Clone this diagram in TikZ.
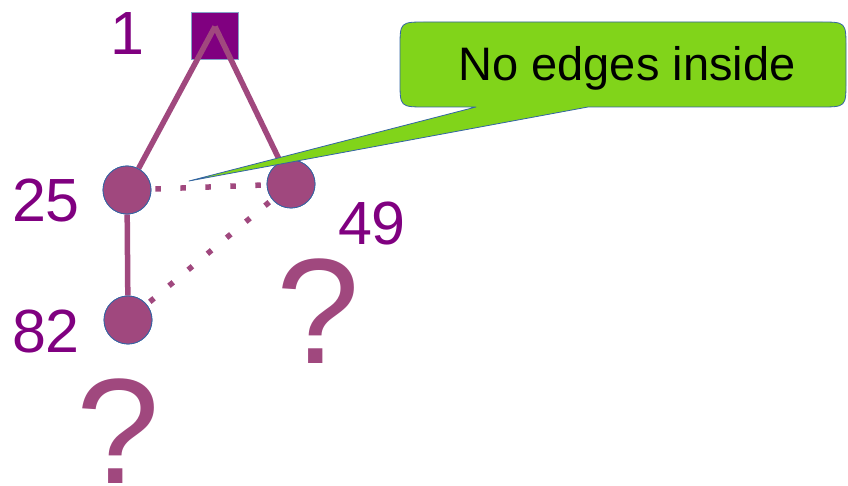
\documentclass[tikz,border=0pt]{standalone}
\usepackage{fontspec}
\setmainfont{Liberation Sans}
\definecolor{plum}{HTML}{800080}
\definecolor{mauve}{HTML}{A0487E}
\definecolor{rim}{HTML}{3465A4}
\definecolor{leaf}{HTML}{81D41A}
\begin{document}
\begin{tikzpicture}[x=1pt,y=-1pt,
  vertex/.style={circle,fill=mauve,draw=rim,line width=0.8pt,minimum size=48pt,inner sep=0pt},
  rootbox/.style={rectangle,fill=plum,draw=rim!60,line width=0.8pt,minimum size=47pt,inner sep=0pt},
  treeedge/.style={draw=mauve,line width=5.5pt},
  dotedge/.style={draw=mauve,line width=5.5pt,dash pattern=on 5.5pt off 19.5pt,dash phase=-4pt},
  idlabel/.style={text=plum,font=\fontsize{61}{61}\selectfont,anchor=base,inner sep=0pt},
  query/.style={text=mauve,font=\fontsize{150}{150}\selectfont,anchor=base,inner sep=0pt},
  balloon/.style={fill=leaf,draw=rim,line width=0.8pt,line join=round},
]
\useasboundingbox (0,0) rectangle (848,486);

% root of the tree
\node[rootbox] (root) at (215,35.5) {};
\coordinate (apex) at ([yshift=-15pt]root.north);

% vertices (placed first so that edges can refer to them)
\node[vertex] (n25) at (127,190) {};
\node[vertex] (n49) at (291,184) {};
\node[vertex] (n82) at (128,320) {};

% tree edges and non-edges
\path[treeedge] (apex) -- (n25);
\path[treeedge] (apex) -- (n49);
\path[treeedge] (n25) -- (n82);
\path[dotedge] (n25) -- (n49);
\path[dotedge] (n82) -- (n49);

% redraw vertices over the edges
\node[vertex] at (n25) {};
\node[vertex] at (n49) {};
\node[vertex] at (n82) {};

% vertex labels
\node[idlabel] (l1)  at (127,55)  {1};
\node[idlabel] (l25) at (46,222)  {25};
\node[idlabel] (l82) at (46,352)  {82};
\node[idlabel] (l49) at (372,244) {49};

% unknown parts
\node[query] (q49) at (318,363) {?};
\node[query] (q82) at (118,483) {?};

% speech balloon
\coordinate (tip) at (189,181);
\path[balloon] (426,22) -- (820,22) .. controls (846,22) .. (846,48) -- (846,81)
  .. controls (846,107) .. (820,107) -- (588,107) -- (tip) -- (476,107) -- (426,107)
  .. controls (400,107) .. (400,81) -- (400,48) .. controls (400,22) .. (426,22) -- cycle;
\node[font=\fontsize{47}{47}\selectfont,anchor=base,inner sep=0pt] (note) at (627,81) {No edges inside};
\end{tikzpicture}
\end{document}
